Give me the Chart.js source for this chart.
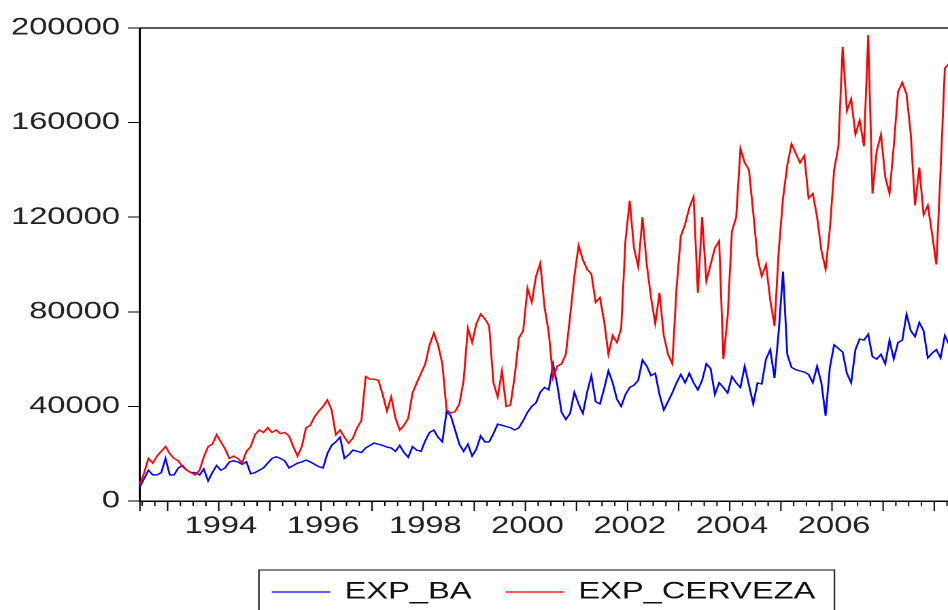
<!DOCTYPE html>
<html>
<head>
<meta charset="utf-8">
<title>EXP_BA / EXP_CERVEZA</title>
<script src="https://cdn.jsdelivr.net/npm/chart.js@4.4.0/dist/chart.umd.min.js"></script>
<style>
  html, body { margin: 0; padding: 0; background: #fff; overflow: hidden; }
  /* the original graph is stretched sideways, so draw narrow and stretch */
  #wrap { position: absolute; left: 0; top: 0; width: 712px; height: 620px;
          transform: scaleX(1.36); transform-origin: 0 0; }
</style>
</head>
<body>
<div id="wrap"><canvas id="chart"></canvas></div>
<script>
// monthly sample 1992M06 - 2008M05
const startYear = 1992, startMonth = 6, nObs = 192;
const months = [];
for (let i = 0; i < nObs; i++) {
    const m = startMonth - 1 + i;
    const y = startYear + Math.floor(m / 12);
    const mm = (m % 12) + 1;
    months.push(y + 'M' + (mm < 10 ? '0' + mm : mm));
}

const seriesNames = ['EXP_BA', 'EXP_CERVEZA'];
const seriesColors = ['#0000ff', '#ff0000'];
const yTicks = [0, 40000, 80000, 120000, 160000, 200000];

const expBa = [
    6000, 9500, 13000, 11000, 11000, 12000, 18000, 11000, 11000, 14000, 15000, 13000,
    12000, 12000, 11000, 13500, 8500, 12000, 15000, 13000, 14000, 16500, 17000, 16500,
    15500, 16600, 11500, 12000, 13000, 14000, 16000, 18000, 18700, 18000, 17000, 14000,
    15000, 16000, 16500, 17300, 16500, 15500, 14500, 14000, 20000, 23500, 25000, 27000,
    18000, 19500, 21500, 21000, 20500, 22400, 23500, 24500, 24000, 23500, 22800, 22400,
    21000, 23500, 20500, 18500, 23000, 21500, 21000, 25500, 29000, 30000, 27000, 25000,
    37800, 36000, 30000, 24000, 21000, 24000, 19000, 22000, 27500, 25000, 25000, 28500,
    32500, 32000, 31500, 31000, 30000, 31000, 34000, 37500, 40000, 41500, 46000, 48000,
    47000, 58000, 49000, 37500, 34500, 37000, 46000, 41000, 37000, 46000, 53000, 42000,
    41000, 47500, 55000, 50000, 43000, 40000, 45000, 48000, 49000, 51000, 59600, 57000,
    53000, 54000, 45000, 38500, 42000, 45700, 50000, 53500, 50000, 54000, 50000, 47000,
    51000, 58000, 56000, 45000, 50000, 48000, 45700, 52600, 50000, 48000, 57000, 49000,
    41000, 49900, 49500, 60000, 64000, 52000, 72000, 97000, 62000, 56500, 55500, 55000,
    54500, 53500, 50000, 57000, 50000, 36000, 56500, 66000, 64500, 63000, 54000, 50000,
    64000, 68500, 68000, 70500, 61000, 60000, 62000, 58000, 68000, 60000, 67000, 68000,
    79000, 72000, 69500, 75500, 72000, 60500, 62500, 64000, 60500, 70000, 66000, 62000
];

const expCerveza = [
    7000, 12000, 18000, 16000, 19000, 21000, 23000, 20000, 18000, 17000, 14500, 13000,
    12000, 11000, 13000, 18700, 23000, 24000, 28000, 25000, 22000, 18000, 19000, 18000,
    16000, 21000, 23000, 28000, 30000, 29000, 31000, 29000, 30000, 28500, 29000, 27500,
    23000, 19000, 23000, 31000, 32000, 35600, 38000, 40000, 42700, 38500, 28000, 30000,
    27000, 24500, 26600, 31000, 34000, 52600, 51500, 51500, 51000, 45000, 38000, 44000,
    35000, 30000, 32000, 35000, 45700, 50000, 54000, 58000, 66000, 71000, 66000, 58000,
    38500, 37200, 37800, 41000, 51000, 73000, 67000, 75000, 79000, 77000, 74000, 50000,
    44000, 55000, 40000, 40600, 53000, 69000, 72000, 90000, 84000, 95000, 100600, 82000,
    71000, 52000, 57000, 58000, 62000, 78000, 95000, 108000, 102000, 98000, 96000, 84000,
    86000, 76000, 62000, 70000, 67000, 73000, 110000, 127000, 107000, 99000, 120000, 100000,
    86000, 75000, 88000, 70000, 62000, 58000, 90000, 112000, 117000, 124000, 128700, 88000,
    120000, 93000, 100000, 107000, 110000, 60000, 78000, 114000, 120000, 149000, 143000, 140000,
    122000, 103000, 95000, 100000, 85000, 74000, 106000, 128000, 142000, 151000, 147000, 143000,
    146000, 128000, 130000, 120000, 106000, 98000, 115000, 140000, 150000, 192000, 165000, 170000,
    155000, 161000, 150000, 197000, 130000, 148000, 155000, 137000, 130000, 150000, 173000, 177000,
    172000, 155000, 125000, 141000, 121000, 125000, 113000, 100000, 140000, 183000, 185000, 180000
];

const FONT = '"Liberation Sans", Arial, sans-serif';

// frame, quarterly/yearly tick marks and the boxed legend (EViews style)
const evFrame = {
    id: 'evFrame',
    afterDraw(chart) {
        const ctx = chart.ctx;
        const area = chart.chartArea;
        const xs = chart.scales.x;
        ctx.save();

        ctx.strokeStyle = '#222';
        ctx.lineWidth = 1.5;
        ctx.beginPath();
        ctx.moveTo(area.left, area.top);
        ctx.lineTo(area.right, area.top);
        ctx.lineTo(area.right, area.bottom);
        ctx.stroke();

        ctx.strokeStyle = '#000';
        ctx.lineWidth = 1;
        ctx.beginPath();
        ctx.moveTo(area.left, area.bottom);
        ctx.lineTo(area.left, area.bottom + 10);
        months.forEach((m, i) => {
            const mm = +m.slice(5);
            if ((mm - 1) % 3 !== 0) return;
            const px = xs.getPixelForValue(i - 0.5);
            if (px <= area.left + 1) return;
            ctx.moveTo(px, area.bottom);
            ctx.lineTo(px, area.bottom + (mm === 1 ? 10 : 5));
        });
        ctx.stroke();

        // legend
        ctx.font = '24px ' + FONT;
        const widths = seriesNames.map(n => ctx.measureText(n).width);
        const lineLen = 43, gap = 10.5, itemGap = 25, padL = 9.5, padR = 14;
        const total = padL + padR + itemGap + 2 * (lineLen + gap) + widths[0] + widths[1];
        const left = (area.left + area.right) / 2 - total / 2;
        const top = 570, cy = 592;
        ctx.strokeStyle = '#333';
        ctx.lineWidth = 1.2;
        ctx.strokeRect(left, top, total, 44);

        let cx = left + padL;
        ctx.textBaseline = 'middle';
        ctx.textAlign = 'left';
        seriesNames.forEach((name, k) => {
            ctx.strokeStyle = seriesColors[k];
            ctx.lineWidth = 1.3;
            ctx.beginPath();
            ctx.moveTo(cx, cy);
            ctx.lineTo(cx + lineLen, cy);
            ctx.stroke();
            cx += lineLen + gap;
            ctx.fillStyle = '#111';
            ctx.fillText(name, cx, cy);
            cx += widths[k] + itemGap;
        });
        ctx.restore();
    }
};

const ctx = document.getElementById('chart').getContext('2d');
new Chart(ctx, {
    type: 'line',
    data: {
        labels: months,
        datasets: [{
            label: seriesNames[0],
            data: expBa,
            borderColor: seriesColors[0],
            backgroundColor: seriesColors[0],
            borderWidth: 1.4,
            pointRadius: 0,
            tension: 0,
            order: 1
        }, {
            label: seriesNames[1],
            data: expCerveza,
            borderColor: seriesColors[1],
            backgroundColor: seriesColors[1],
            borderWidth: 1.4,
            pointRadius: 0,
            tension: 0,
            order: 0
        }]
    },
    options: {
        responsive: true,
        maintainAspectRatio: false,
        animation: false,
        devicePixelRatio: 2,
        layout: {
            padding: { top: 28, right: 8.3, left: 0, bottom: 0 }
        },
        scales: {
            x: {
                type: 'category',
                offset: false,
                grid: { display: false, drawTicks: false },
                border: { display: true, color: '#000', width: 1.5 },
                ticks: {
                    autoSkip: false,
                    maxRotation: 0,
                    minRotation: 0,
                    padding: 11,
                    color: '#222',
                    font: { family: FONT, size: 24 },
                    callback: function(value, index) {
                        const lab = months[index];
                        const yr = +lab.slice(0, 4);
                        // every other January, only when a full year follows
                        return lab.endsWith('M01') && yr % 2 === 0 && index + 12 < nObs ? String(yr) : '';
                    }
                },
                afterFit: function(scale) { scale.height = 119; }
            },
            y: {
                min: 0,
                max: 200000,
                grid: { drawOnChartArea: false, drawTicks: true, tickLength: 8.8, color: '#000' },
                border: { display: true, color: '#000', width: 1.5 },
                afterBuildTicks: function(scale) {
                    scale.ticks = yTicks.map(v => ({ value: v }));
                },
                ticks: {
                    padding: 5.9,
                    color: '#222',
                    font: { family: FONT, size: 24 },
                    callback: v => String(v)
                },
                afterFit: function(scale) { scale.width = 102.9; }
            }
        },
        plugins: {
            legend: { display: false },
            tooltip: { enabled: false }
        }
    },
    plugins: [evFrame]
});
</script>
</body>
</html>
